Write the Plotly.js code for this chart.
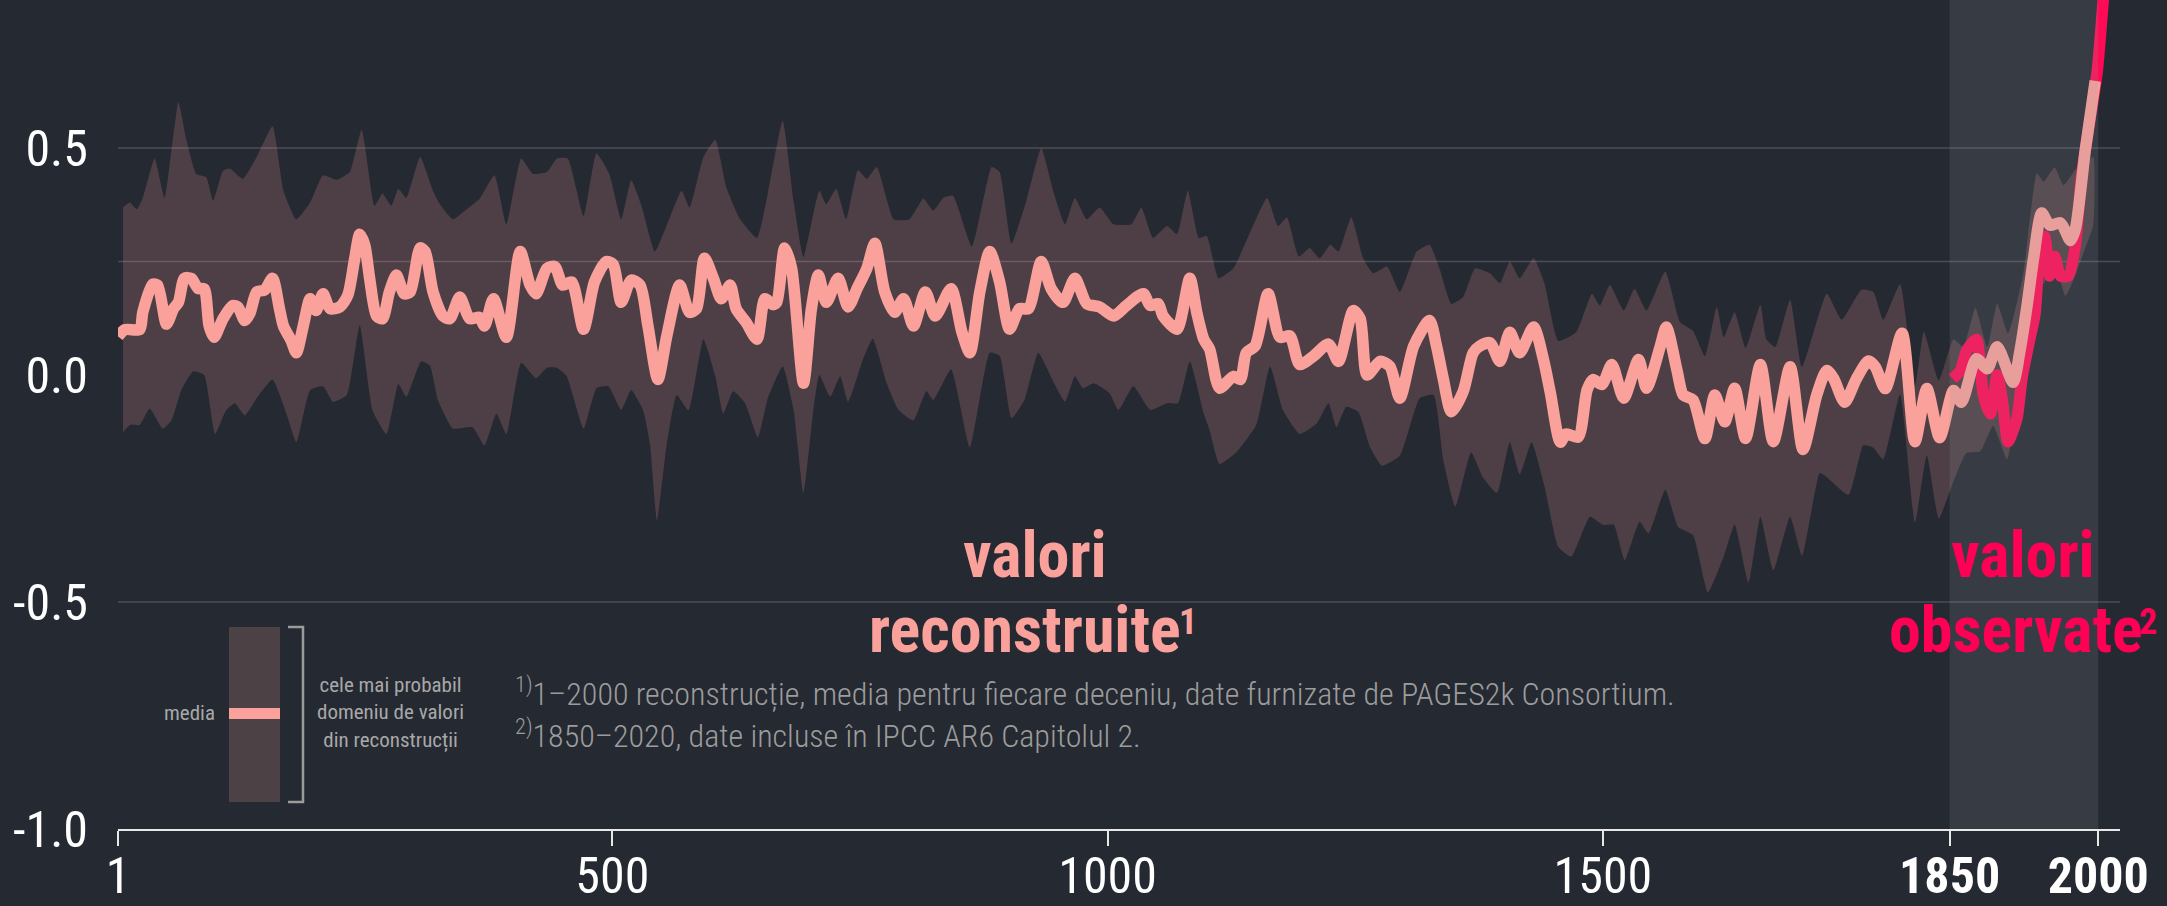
<!DOCTYPE html>
<html><head><meta charset="utf-8">
<script src="https://cdn.plot.ly/plotly-3.0.1.min.js"></script>
<style>html,body{margin:0;padding:0;background:#252932;}#chart{width:2167px;height:906px;}</style>
</head><body><div id="chart"></div>
<script>
// ---------- data ----------
const meanYears = [1,8,23,26,36,41,50,57,62,68,75,82,88,93,98,107,117,122,129,134,141,149,157,164,168,176,181,188,195,201,208,215,225,233,240,245,250,255,262,268,275,282,290,296,306,311,319,329,336,346,356,366,371,380,393,407,417,423,434,442,450,459,471,482,494,501,509,519,528,536,546,555,568,578,585,593,602,610,619,625,635,646,654,662,666,674,681,693,701,708,716,728,738,747,757,765,775,785,794,804,816,826,842,853,861,871,881,891,901,911,920,933,943,955,967,979,992,1006,1019,1036,1043,1051,1056,1070,1083,1090,1097,1103,1113,1127,1134,1140,1149,1162,1174,1184,1194,1208,1223,1233,1248,1255,1262,1275,1285,1295,1309,1325,1332,1339,1347,1359,1369,1376,1386,1396,1406,1416,1430,1440,1447,1457,1463,1475,1484,1490,1499,1509,1521,1536,1544,1558,1564,1575,1581,1591,1603,1613,1623,1633,1644,1659,1672,1689,1702,1716,1726,1733,1744,1756,1768,1775,1785,1802,1815,1827,1840,1854,1862,1877,1888,1898,1914,1921,1928,1935,1943,1951,1962,1972,1977,1987,1997];
const meanVals = [0.085,0.10,0.10,0.138,0.20,0.198,0.112,0.146,0.16,0.213,0.213,0.19,0.19,0.108,0.083,0.124,0.153,0.15,0.12,0.135,0.183,0.187,0.213,0.146,0.108,0.075,0.049,0.108,0.168,0.142,0.179,0.146,0.15,0.176,0.257,0.31,0.287,0.213,0.13,0.124,0.183,0.22,0.179,0.183,0.28,0.272,0.183,0.13,0.124,0.172,0.124,0.127,0.108,0.168,0.083,0.272,0.198,0.179,0.235,0.239,0.198,0.205,0.101,0.205,0.25,0.243,0.16,0.209,0.198,0.108,-0.01,0.086,0.198,0.138,0.146,0.257,0.213,0.168,0.198,0.146,0.116,0.079,0.168,0.155,0.16,0.28,0.235,-0.018,0.146,0.22,0.16,0.213,0.15,0.19,0.235,0.29,0.183,0.138,0.168,0.108,0.183,0.13,0.19,0.094,0.049,0.183,0.272,0.205,0.101,0.146,0.146,0.25,0.19,0.16,0.213,0.157,0.15,0.13,0.153,0.179,0.153,0.157,0.13,0.101,0.213,0.138,0.079,0.057,-0.029,-0.003,-0.01,0.049,0.064,0.179,0.083,0.086,0.023,0.042,0.068,0.03,0.142,0.124,0.0,0.03,0.019,-0.051,0.064,0.12,0.064,-0.01,-0.081,-0.036,0.049,0.064,0.071,0.03,0.094,0.049,0.106,0.034,-0.04,-0.148,-0.13,-0.137,-0.033,-0.01,-0.021,0.023,-0.051,0.034,-0.029,0.064,0.106,0.008,-0.044,-0.055,-0.14,-0.044,-0.103,-0.029,-0.14,0.023,-0.147,0.018,-0.164,-0.043,0.01,-0.008,-0.06,-0.008,0.031,0.018,-0.03,0.092,-0.147,-0.03,-0.138,-0.034,-0.06,0.036,0.014,0.062,-0.016,0.053,0.15,0.261,0.357,0.33,0.335,0.296,0.322,0.496,0.648];

const upperYears = [6,13,20,26,38,48,62,70,80,90,97,107,114,127,141,157,168,181,195,208,222,235,247,260,268,277,284,292,306,319,326,339,353,366,381,393,408,420,434,444,455,471,484,497,509,519,529,543,558,570,578,592,604,615,629,646,657,672,683,693,709,716,726,736,748,757,767,784,800,814,824,834,844,863,883,891,903,918,933,945,957,967,979,992,1006,1024,1034,1046,1060,1070,1081,1092,1100,1112,1127,1140,1161,1172,1181,1193,1204,1214,1225,1233,1246,1258,1268,1282,1295,1312,1325,1335,1347,1359,1371,1386,1396,1406,1416,1430,1441,1455,1473,1489,1497,1507,1521,1532,1544,1563,1578,1591,1603,1615,1622,1633,1644,1659,1665,1674,1689,1701,1726,1741,1761,1773,1783,1800,1815,1824,1839,1854,1864,1876,1888,1898,1909,1924,1938,1945,1956,1965,1977,1987,1995];
const upperVals = [0.369,0.38,0.365,0.39,0.477,0.39,0.60,0.518,0.443,0.436,0.384,0.45,0.455,0.432,0.48,0.548,0.406,0.343,0.38,0.44,0.43,0.447,0.54,0.373,0.40,0.373,0.41,0.39,0.48,0.406,0.376,0.343,0.365,0.388,0.44,0.332,0.477,0.443,0.447,0.477,0.477,0.35,0.488,0.443,0.343,0.429,0.376,0.272,0.347,0.406,0.369,0.48,0.518,0.414,0.343,0.302,0.40,0.56,0.384,0.26,0.406,0.376,0.41,0.343,0.451,0.432,0.458,0.343,0.343,0.388,0.362,0.39,0.395,0.283,0.458,0.447,0.29,0.384,0.50,0.406,0.332,0.39,0.343,0.369,0.332,0.332,0.369,0.302,0.328,0.31,0.406,0.302,0.306,0.213,0.235,0.295,0.39,0.328,0.347,0.261,0.28,0.257,0.287,0.272,0.347,0.257,0.224,0.239,0.183,0.272,0.287,0.235,0.157,0.172,0.235,0.224,0.202,0.25,0.213,0.257,0.202,0.075,0.094,0.179,0.153,0.198,0.142,0.19,0.142,0.228,0.116,0.097,0.042,0.15,0.083,0.138,0.06,0.155,0.079,0.062,0.166,0.018,0.179,0.122,0.188,0.183,0.122,0.2,-0.025,0.096,-0.012,0.079,0.062,0.148,0.062,0.157,0.092,0.218,0.444,0.426,0.457,0.418,0.452,0.47,0.48];

const lowerYears = [6,13,23,33,46,55,65,77,88,99,110,119,129,141,157,171,181,195,208,218,232,245,258,272,284,292,307,316,324,339,359,371,383,393,408,423,434,444,454,471,484,496,509,519,531,538,545,555,565,577,592,604,612,622,634,647,657,672,683,693,703,709,720,730,738,753,763,777,789,804,817,824,842,861,881,891,903,916,930,945,957,967,975,986,1002,1011,1026,1043,1060,1071,1083,1097,1103,1113,1130,1150,1164,1177,1194,1211,1223,1231,1241,1253,1265,1277,1295,1315,1329,1339,1351,1367,1379,1393,1406,1416,1428,1441,1455,1468,1487,1500,1511,1522,1537,1546,1563,1576,1591,1606,1622,1633,1647,1659,1672,1689,1701,1719,1726,1748,1763,1773,1783,1800,1815,1827,1839,1854,1867,1881,1894,1908,1921,1938,1946,1956,1967,1977,1987,1995];
const lowerVals = [-0.126,-0.11,-0.11,-0.074,-0.118,-0.10,-0.033,0.008,0.0,-0.13,-0.078,-0.062,-0.089,-0.051,-0.01,-0.085,-0.148,-0.033,-0.025,-0.059,-0.044,0.109,-0.078,-0.13,-0.02,-0.048,0.03,0.02,-0.055,-0.118,-0.115,-0.155,-0.085,-0.13,0.027,-0.007,0.016,0.016,-0.003,-0.118,-0.029,-0.025,-0.077,-0.033,-0.077,-0.152,-0.32,-0.152,-0.044,-0.078,0.079,-0.003,-0.085,-0.036,-0.062,-0.137,-0.051,0.019,-0.077,-0.26,-0.077,0.0,-0.048,-0.003,-0.059,0.034,0.08,-0.018,-0.077,-0.10,-0.036,-0.055,0.012,-0.159,0.049,0.042,-0.095,-0.055,0.049,-0.014,-0.059,-0.003,-0.029,-0.018,-0.04,-0.077,-0.025,-0.077,-0.062,-0.062,0.03,-0.085,-0.122,-0.196,-0.17,-0.11,0.019,-0.077,-0.13,-0.107,-0.062,-0.115,-0.07,-0.081,-0.159,-0.2,-0.178,-0.051,-0.044,-0.189,-0.29,-0.17,-0.226,-0.26,-0.148,-0.219,-0.148,-0.245,-0.379,-0.40,-0.312,-0.33,-0.33,-0.408,-0.323,-0.349,-0.253,-0.335,-0.353,-0.479,-0.40,-0.33,-0.457,-0.312,-0.43,-0.312,-0.398,-0.216,-0.225,-0.264,-0.155,-0.16,-0.186,-0.043,-0.325,-0.177,-0.316,-0.234,-0.172,-0.168,-0.112,-0.186,-0.021,0.183,0.205,0.248,0.174,0.22,0.28,0.33];

const obsYears = [1853,1861,1867,1877,1884,1891,1898,1903,1909,1918,1923,1930,1936,1941,1946,1951,1956,1962,1970,1977,1983,1990,1999,2010,2020];
const obsVals  = [-0.008,0.01,0.053,0.079,-0.043,-0.086,0.0,-0.051,-0.147,-0.095,-0.008,0.07,0.131,0.27,0.305,0.218,0.261,0.218,0.218,0.287,0.435,0.539,0.669,0.95,1.1];

const xTickVals  = [1, 500, 1000, 1500, 1850, 2000];
const xTickText  = ['1', '500', '1000', '1500', '<b>1850</b>', '<b>2000</b>'];
const yTickVals  = [0.5, 0, -0.5, -1];
const yTickText  = ['0.5', '0.0', '-0.5', '-1.0'];
const gridVals   = [0.5, 0.25, -0.5];
const xRange     = [1, 2022];
const yRange     = [-1, 0.826];
const observedSpan = [1850, 2000];

// ---------- layout helpers ----------
const FONT = "'Roboto Condensed', 'Liberation Sans Narrow', 'DejaVu Sans Condensed', 'Roboto', sans-serif";
const W = 2167, H = 906, ML = 118, MR = 47, MT = 0, MB = 77;
const PW = W - ML - MR, PH = H - MT - MB;
const px = x => (x - ML) / PW;
const py = y => (H - MB - y) / PH;

const PINK = '#f9a19a', RED = '#ff0a54', BG = '#252932', RED_TXT = '#ff0055';

// gridlines as line segments across the full x range
const gx = [], gy = [];
gridVals.forEach(v => { gx.push(xRange[0], xRange[1], null); gy.push(v, v, null); });

const traces = [
  {x: gx, y: gy, type: 'scatter', mode: 'lines', line: {color: '#4b4e57', width: 1.5}, hoverinfo: 'skip'},
  {x: upperYears.concat(lowerYears.slice().reverse()),
   y: upperVals.concat(lowerVals.slice().reverse()),
   type: 'scatter', mode: 'lines', fill: 'toself', fillcolor: 'rgba(249,161,154,0.19)',
   line: {width: 0, shape: 'spline', smoothing: 0.45}, hoverinfo: 'skip'},
  {x: obsYears, y: obsVals, type: 'scatter', mode: 'lines',
   line: {color: RED, width: 11.5, shape: 'spline', smoothing: 0.6}, hoverinfo: 'skip'},
  {x: meanYears, y: meanVals, type: 'scatter', mode: 'lines',
   line: {color: PINK, width: 11.5, shape: 'spline', smoothing: 0.7}, hoverinfo: 'skip'}
];

const tickFont = {family: FONT, size: 50, color: '#ffffff', weight: 400};
const noteFont = {family: FONT, size: 21, color: '#a8a8a8', weight: 400};
const bigFont = c => ({family: FONT, size: 64, color: c, weight: 700});
const supFont = c => ({family: FONT, size: 36, color: c, weight: 700});

const bx0 = px(288), bx1 = px(303), byT = py(627), byB = py(802);

const layout = {
  width: W, height: H,
  margin: {l: ML, r: MR, t: MT, b: MB, pad: 0},
  paper_bgcolor: BG, plot_bgcolor: BG,
  showlegend: false,
  xaxis: {range: xRange, tickvals: xTickVals, ticktext: xTickText, ticks: 'outside',
          ticklen: 15, tickwidth: 2, tickcolor: '#e8e8e8', showline: true, linecolor: '#e8e8e8',
          linewidth: 2, showgrid: false, zeroline: false, tickfont: tickFont, fixedrange: true,
          ticklabelstandoff: -13},
  yaxis: {range: yRange, tickvals: yTickVals, ticktext: yTickText, ticks: 'outside',
          ticklen: 19, tickcolor: 'rgba(0,0,0,0)', showline: false, showgrid: false,
          zeroline: false, tickfont: tickFont, fixedrange: true},
  shapes: [
    {type: 'rect', xref: 'x', yref: 'paper', x0: observedSpan[0], x1: observedSpan[1], y0: 0, y1: 1,
     fillcolor: 'rgba(150,154,162,0.17)', line: {width: 0}, layer: 'above'},
    {type: 'rect', xref: 'paper', yref: 'paper', x0: px(229), x1: px(280), y0: py(802), y1: py(627),
     fillcolor: '#4c4246', line: {width: 0}, layer: 'above'},
    {type: 'rect', xref: 'paper', yref: 'paper', x0: px(229), x1: px(280), y0: py(719), y1: py(708),
     fillcolor: PINK, line: {width: 0}, layer: 'above'},
    {type: 'path', xref: 'paper', yref: 'paper',
     path: `M${bx0},${byT} L${bx1},${byT} L${bx1},${byB} L${bx0},${byB}`,
     line: {color: '#9c9c9c', width: 2.5}, layer: 'above'}
  ],
  annotations: [
    {xref: 'paper', yref: 'paper', x: px(217), y: py(713), xanchor: 'right', yanchor: 'middle',
     text: 'media', showarrow: false, font: noteFont},
    {xref: 'paper', yref: 'paper', x: px(390), y: py(713), xanchor: 'center', yanchor: 'middle',
     text: 'cele mai probabil<br>domeniu de valori<br>din reconstrucții', align: 'center',
     showarrow: false, font: noteFont},
    {xref: 'paper', yref: 'paper', x: px(513), y: py(713), xanchor: 'left', yanchor: 'middle', align: 'left',
     text: '<sup>1)</sup>1–2000 reconstrucție, media pentru fiecare deceniu, date furnizate de PAGES2k Consortium.<br><sup>2)</sup>1850–2020, date incluse în IPCC AR6 Capitolul 2.',
     showarrow: false, font: {family: FONT, size: 32, color: '#9c9c9c', weight: 300}},
    {xref: 'paper', yref: 'paper', x: px(1035), y: py(555), xanchor: 'center', yanchor: 'middle',
     text: 'valori', showarrow: false, font: bigFont(PINK)},
    {xref: 'paper', yref: 'paper', x: px(1025), y: py(630), xanchor: 'center', yanchor: 'middle',
     text: 'reconstruite', showarrow: false, font: bigFont(PINK)},
    {xref: 'paper', yref: 'paper', x: px(1177), y: py(622), xanchor: 'left', yanchor: 'middle',
     text: '1', showarrow: false, font: supFont(PINK)},
    {xref: 'paper', yref: 'paper', x: px(2023), y: py(555), xanchor: 'center', yanchor: 'middle',
     text: 'valori', showarrow: false, font: bigFont(RED_TXT)},
    {xref: 'paper', yref: 'paper', x: px(2016), y: py(630), xanchor: 'center', yanchor: 'middle',
     text: 'observate', showarrow: false, font: bigFont(RED_TXT)},
    {xref: 'paper', yref: 'paper', x: px(2137), y: py(622), xanchor: 'left', yanchor: 'middle',
     text: '2', showarrow: false, font: supFont(RED_TXT)}
  ]
};

Plotly.newPlot('chart', traces, layout, {staticPlot: true, displayModeBar: false});
</script></body></html>
